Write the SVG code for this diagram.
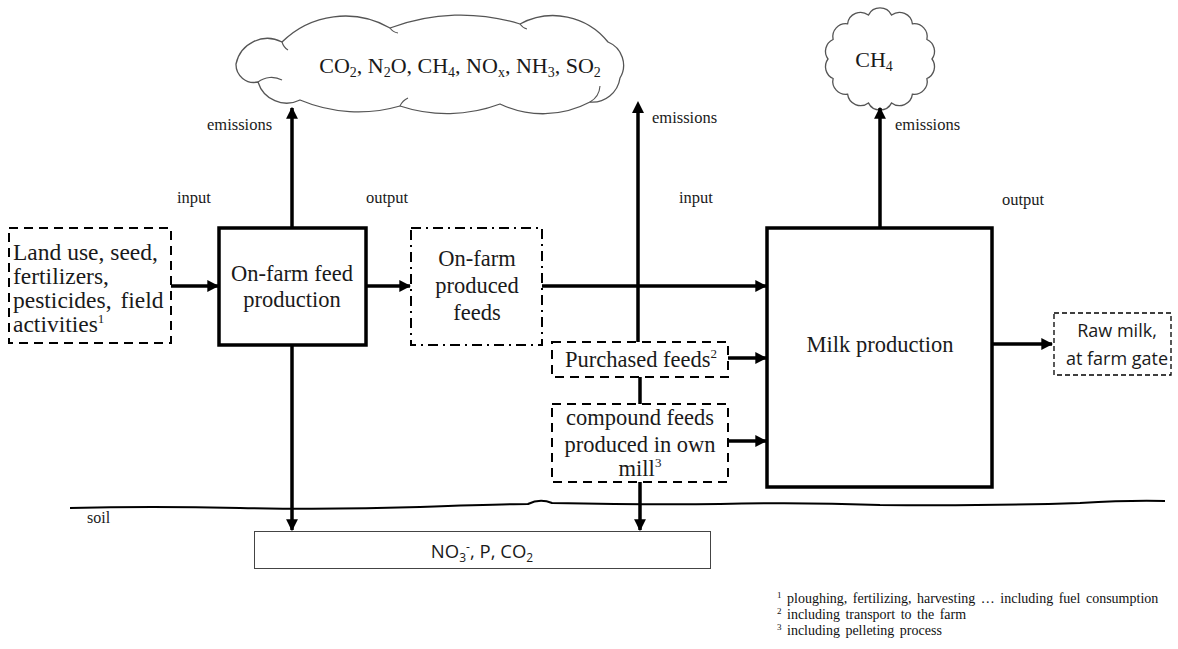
<svg xmlns="http://www.w3.org/2000/svg" width="1178" height="649" viewBox="0 0 1178 649">
<style>
.thick{fill:#fff;stroke:#000;stroke-width:3.5}
.dash{fill:#fff;stroke:#000;stroke-width:2;stroke-dasharray:9 6}
.dashs{fill:#fff;stroke:#000;stroke-width:1.3;stroke-dasharray:5 3}
.dashdot{fill:#fff;stroke:#000;stroke-width:2;stroke-dasharray:10 5 2 5}
.cloud{fill:#fff;stroke:#555;stroke-width:1.3}
.conn{stroke:#000;stroke-width:3.5;fill:none}
</style>
<defs>
<marker id="ah" viewBox="0 0 10 10" refX="9" refY="5" markerWidth="3.4" markerHeight="3.4" orient="auto" markerUnits="strokeWidth">
<path d="M0,0 L10,5 L0,10 Z" fill="#000"/>
</marker>
</defs>
<rect width="1178" height="649" fill="#fff"/>

<g font-family="Liberation Serif, Times New Roman, serif" fill="#1a1a1a">

<g id="cloud-main">
<path class="cloud" d="M236,64 A32,32 0 0 1 282,42 A90,90 0 0 1 390,28 A200,200 0 0 1 520,24 A70,70 0 0 1 608,42 A25,25 0 0 1 620,78 A28,28 0 0 1 590,102 A100,100 0 0 1 500,104 A150,150 0 0 1 400,106 A150,150 0 0 1 300,100 A30,30 0 0 1 258,82 A18,18 0 0 1 236,64 Z"/>
<path d="M282,42 A14,14 0 0 0 288,50 M258,82 A22,22 0 0 1 282,80 M390,28 A12,12 0 0 0 398,33 M520,24 A12,12 0 0 0 527,29 M590,102 A20,20 0 0 0 600,86 M400,106 A16,16 0 0 1 408,98" fill="none" stroke="#555" stroke-width="1.1"/>
<text x="460" y="73" font-size="22" text-anchor="middle">CO<tspan font-size="14" dy="4">2</tspan><tspan dy="-4">, N</tspan><tspan font-size="14" dy="4">2</tspan><tspan dy="-4">O, CH</tspan><tspan font-size="14" dy="4">4</tspan><tspan dy="-4">, NO</tspan><tspan font-size="14" dy="4">x</tspan><tspan dy="-4">, NH</tspan><tspan font-size="14" dy="4">3</tspan><tspan dy="-4">, SO</tspan><tspan font-size="14" dy="4">2</tspan></text>
</g>

<g id="cloud-ch4">
<path class="cloud" d="M828,59 A13,13 0 0 1 833.1,39.5 A13,13 0 0 1 847.6,23.8 A13,13 0 0 1 868.4,15.1 A13,13 0 0 1 891.6,15.1 A13,13 0 0 1 912.4,23.8 A13,13 0 0 1 926.9,39.5 A13,13 0 0 1 932,59 A13,13 0 0 1 926.9,78.5 A13,13 0 0 1 912.4,94.2 A13,13 0 0 1 891.6,102.9 A13,13 0 0 1 868.4,102.9 A13,13 0 0 1 847.6,94.2 A13,13 0 0 1 833.1,78.5 A13,13 0 0 1 828,59 Z"/>
<text x="874" y="67" font-size="22" text-anchor="middle">CH<tspan font-size="14" dy="4">4</tspan></text>
</g>

<g id="connectors">
<line class="conn" x1="292" y1="227" x2="292" y2="108" marker-end="url(#ah)"/>
<line class="conn" x1="638" y1="342" x2="638" y2="110" stroke-width="3"/>
<path d="M632,113 L638,101 L644,113 Z" fill="#000"/>
<line class="conn" x1="880" y1="228" x2="880" y2="108" marker-end="url(#ah)"/>
<line class="conn" x1="292" y1="345" x2="292" y2="530" stroke-width="2.5" marker-end="url(#ah)"/>
<line class="conn" x1="640" y1="482" x2="640" y2="530" stroke-width="3" marker-end="url(#ah)"/>
<line class="conn" x1="640" y1="377" x2="640" y2="404"/>
<line class="conn" x1="171" y1="286" x2="218" y2="286" stroke-width="3" marker-end="url(#ah)"/>
<line class="conn" x1="366" y1="286" x2="410" y2="286" stroke-width="3" marker-end="url(#ah)"/>
<line class="conn" x1="542" y1="286" x2="766" y2="286" stroke-width="3" marker-end="url(#ah)"/>
<line class="conn" x1="728" y1="358" x2="766" y2="358" stroke-width="3" marker-end="url(#ah)"/>
<line class="conn" x1="728" y1="441" x2="766" y2="441" stroke-width="3" marker-end="url(#ah)"/>
<line class="conn" x1="993" y1="344" x2="1052" y2="344" stroke-width="3" marker-end="url(#ah)"/>
</g>

<g id="soil">
<path d="M70,508 Q150,506 240,508 Q330,510 420,507 Q500,504 528,504 Q540,498 552,503 Q650,505 720,504 Q800,502 880,505 Q990,506 1080,503 Q1130,500 1165,501" fill="none" stroke="#000" stroke-width="2"/>
<text x="87" y="523" font-size="16">soil</text>
</g>

<g id="labels" font-size="16.5">
<text x="207" y="130">emissions</text>
<text x="652" y="123">emissions</text>
<text x="895" y="130">emissions</text>
<text x="177" y="203">input</text>
<text x="366" y="203">output</text>
<text x="679" y="203">input</text>
<text x="1002" y="205">output</text>
</g>

<g id="node-inputs" font-size="23.5">
<rect class="dash" x="9" y="228" width="162" height="115"/>
<text x="13" y="260">Land use, seed,</text>
<text x="13" y="284">fertilizers,</text>
<text x="13" y="308" word-spacing="3">pesticides, field</text>
<text x="13" y="332">activities<tspan font-size="13" dy="-9">1</tspan></text>
</g>

<g id="node-onfarm-feed" font-size="22.5">
<rect class="thick" x="219" y="228" width="147" height="117"/>
<text x="292" y="281" text-anchor="middle">On-farm feed</text>
<text x="292" y="307" text-anchor="middle">production</text>
</g>

<g id="node-produced-feeds" font-size="22.5">
<rect class="dashdot" x="411" y="228" width="131" height="117"/>
<text x="477" y="266" text-anchor="middle">On-farm</text>
<text x="477" y="293" text-anchor="middle">produced</text>
<text x="477" y="320" text-anchor="middle">feeds</text>
</g>

<g id="node-purchased" font-size="22.5">
<rect class="dash" x="552" y="342" width="176" height="35" stroke-width="1.3" stroke-dasharray="8 5"/>
<text x="641" y="367" text-anchor="middle">Purchased feeds<tspan font-size="13" dy="-9">2</tspan></text>
</g>

<g id="node-compound" font-size="22.5">
<rect class="dash" x="552" y="404" width="176" height="78" stroke-width="1.3" stroke-dasharray="8 5"/>
<text x="640" y="425" text-anchor="middle">compound feeds</text>
<text x="640" y="452" text-anchor="middle">produced in own</text>
<text x="640" y="476" text-anchor="middle">mill<tspan font-size="13" dy="-9">3</tspan></text>
</g>

<g id="node-milk" font-size="22.5">
<rect class="thick" x="767" y="228" width="225" height="259"/>
<text x="880" y="352" text-anchor="middle">Milk production</text>
</g>

<g id="node-rawmilk" font-family="Open Sans, DejaVu Sans, sans-serif" font-size="18">
<rect class="dashs" x="1054" y="313" width="117" height="62"/>
<text x="1117" y="337" text-anchor="middle">Raw milk,</text>
<text x="1117" y="365" text-anchor="middle">at farm gate</text>
</g>

<g id="node-soil-emissions" font-family="Open Sans, DejaVu Sans, sans-serif" font-size="18.5">
<rect x="254.5" y="531.5" width="456" height="37" fill="#fff" stroke="#444" stroke-width="1"/>
<text x="482" y="558" text-anchor="middle">NO<tspan font-size="12" dy="4">3</tspan><tspan font-size="12" dy="-11">-</tspan><tspan dy="7">, P, CO</tspan><tspan font-size="12" dy="4">2</tspan></text>
</g>

<g id="footnotes" font-size="14" fill="#111" word-spacing="2">
<text x="777" y="603"><tspan font-size="9" dy="-5">1</tspan><tspan dy="5"> ploughing,  fertilizing,  harvesting  … including  fuel consumption</tspan></text>
<text x="777" y="619"><tspan font-size="9" dy="-5">2</tspan><tspan dy="5"> including  transport to the farm</tspan></text>
<text x="777" y="635"><tspan font-size="9" dy="-5">3</tspan><tspan dy="5"> including  pelleting  process</tspan></text>
</g>

</g>
</svg>
